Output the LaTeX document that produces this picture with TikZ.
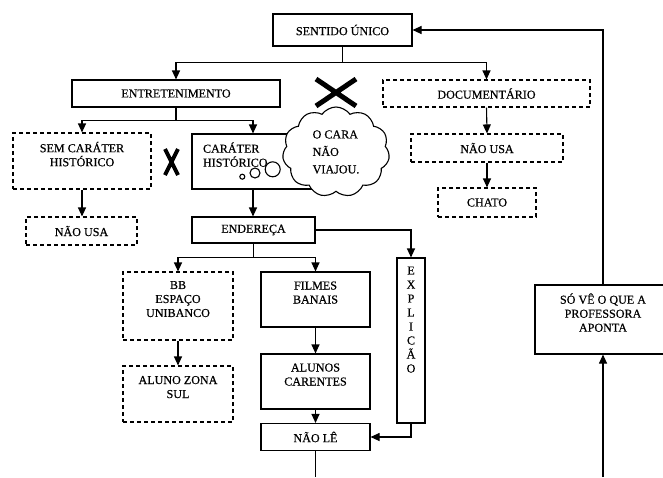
\documentclass[tikz,border=0pt]{standalone}
\usepackage{fontspec}
\setmainfont{Liberation Serif}[FakeBold=0.5]
\usetikzlibrary{arrows.meta,
	shapes.symbols,
	calc}
\tikzstyle{bx}=[draw, line width=1.1pt, inner sep=0, align=center, font=\fontsize{12.1}{14}\selectfont]
\tikzstyle{dbx}=[bx, dash pattern=on 4pt off 3pt]
\tikzstyle{ln}=[line width=1.1pt]
\tikzstyle{ar}=[line width=1.1pt, -{Triangle[length=9pt, width=8pt]}]
\tikzstyle{cl}=[draw, cloud, cloud puffs=11, cloud puff arc=110, aspect=1.2, fill=white,
		line width=1.1pt, inner sep=0, align=left, font=\fontsize{12.1}{17.5}\selectfont]

\begin{document}
\begin{tikzpicture}[x=1pt, y=-1pt]
        \useasboundingbox (0,0) rectangle (663,477);
        \node[bx, minimum width=139, minimum height=32] (sent) at (342.5,30) {SENTIDO ÚNICO};
        \node[bx, minimum width=208, minimum height=27] (entr) at (176,93.5) {ENTRETENIMENTO};
        \node[dbx, minimum width=207, minimum height=27] (doc) at (486.5,93.5) {DOCUMENTÁRIO};
        \node[dbx, minimum width=138, minimum height=56] (sem) at (82,161) {SEM CARÁTER\\HISTÓRICO\\\mbox{}};
        \node[bx, text width=100, inner xsep=11, minimum height=55, align=left] (carat) at (253,161.5) {CARÁTER\\HISTÓRICO\\\mbox{}};
        \node[dbx, minimum width=111, minimum height=28] (usaL) at (81.5,231) {NÃO USA};
        \node[dbx, minimum width=152, minimum height=28] (usaR) at (487,148) {NÃO USA};
        \node[dbx, minimum width=98, minimum height=29] (chato) at (487,202.5) {CHATO};
        \node[bx, minimum width=123, minimum height=26] (ender) at (253.5,230) {ENDEREÇA};
        \node[dbx, minimum width=110, minimum height=68] (bb) at (178,306) {BB\\ESPAÇO\\UNIBANCO\\\mbox{}};
        \node[dbx, minimum width=110, minimum height=56] (zona) at (178,394) {ALUNO ZONA\\SUL\\\mbox{}};
        \node[bx, minimum width=109, minimum height=55] (filmes) at (315.5,299.5) {FILMES\\BANAIS\\\mbox{}};
        \node[bx, minimum width=109, minimum height=55] (alunos) at (315.5,381.5) {ALUNOS\\CARENTES\\\mbox{}};
        \node[bx, minimum width=109, minimum height=27] (naole) at (315.5,437) {NÃO LÊ};
        \node[bx, minimum width=28, minimum height=165] (expl) at (411,340.5) {E\\X\\P\\L\\I\\C\\Ã\\O\\\mbox{}\\\mbox{}\\\mbox{}};
        \node[bx, minimum width=136, minimum height=69] (sove) at (603,319.5) {SÓ VÊ O QUE A\\PROFESSORA\\APONTA\\\mbox{}};
        \coordinate (fim1) at (315.5,477);
        \coordinate (fim2) at (603,477);
        \draw[ln] (242.3,176.7) circle (2.5pt) (255,173) circle (5pt) (272.7,169.3) circle (7.5pt);
        \draw[line width=5pt] (316,79) -- (356,106) (316,106) -- (356,79);
        \draw[line width=4pt] (165,149) -- (178,175) (178,149) -- (165,175);
        \node[cl, minimum width=107, minimum height=90] (nuvem) at (336,152) {O CARA\\NÃO\\VIAJOU.};
        \draw[ln] (sent.south) -- ++(0,16) coordinate (b1);
        \draw[ar] (b1) -| (entr.north);
        \draw[ar] (b1) -| (doc.north);
        \draw[ln] (entr.south) -- ++(0,13) coordinate (b2);
        \draw[ar] (b2) -| (sem.north);
        \draw[ar] (b2) -| (carat.north);
        \draw[ar] (doc.south) -- (usaR.north);
        \draw[ar] (usaR.south) -- (chato.north);
        \draw[ar] (sem.south) -- (sem.south |- usaL.north);
        \draw[ar] (carat.south) -- (carat.south |- ender.north);
        \draw[ar] (ender.east) -| (expl.north);
        \draw[ln] (ender.south) -- ++(0,14) coordinate (b3);
        \draw[ar] (b3) -| (bb.north);
        \draw[ar] (b3) -| (filmes.north);
        \draw[ar] (bb.south) -- (zona.north);
        \draw[ar] (filmes.south) -- (alunos.north);
        \draw[ar] (alunos.south) -- (naole.north);
        \draw[ar] (expl.south) |- (naole.east);
        \draw[ln] (naole.south) -- (fim1);
        \draw[ar] (fim2) -- (sove.south);
        \draw[ar] (sove.north) |- (sent.east);
    \end{tikzpicture}
\end{document}
